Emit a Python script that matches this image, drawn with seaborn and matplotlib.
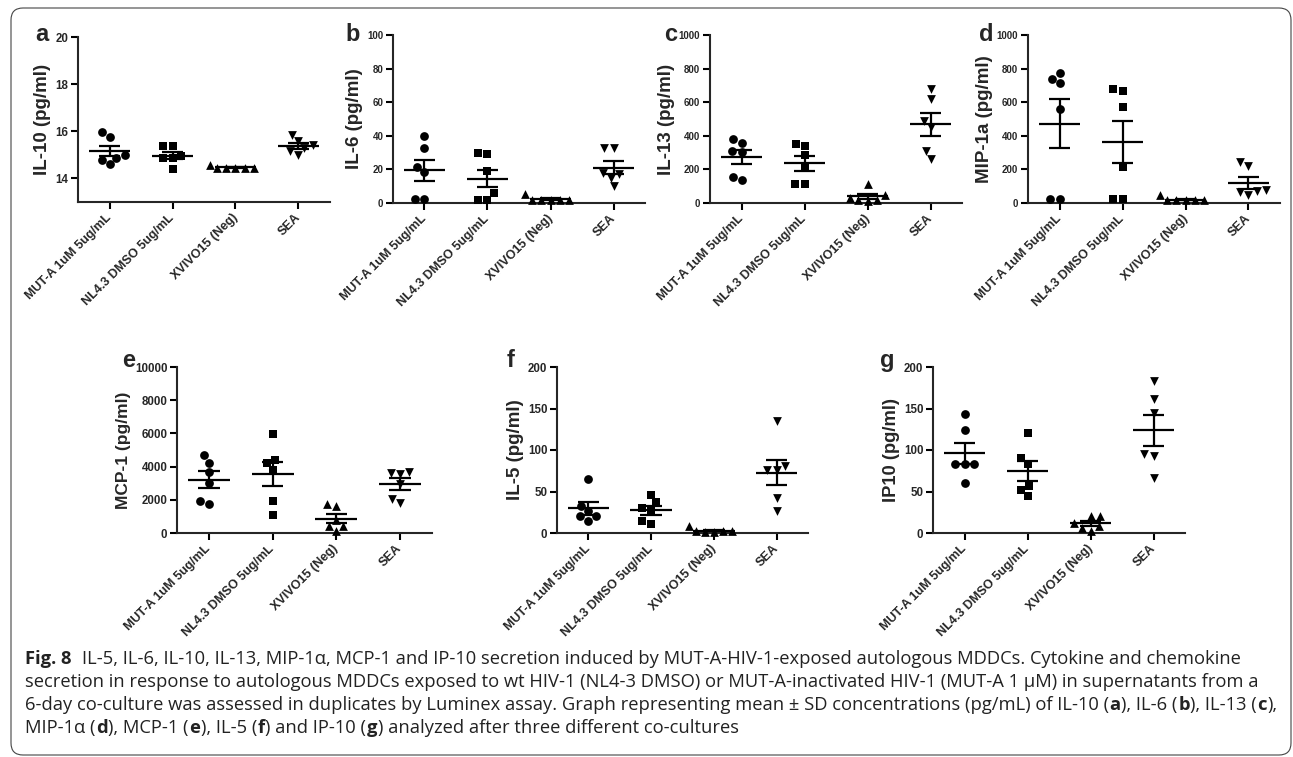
import numpy as np
import pandas as pd
import matplotlib.pyplot as plt
import seaborn as sns
from matplotlib.patches import FancyBboxPatch
from matplotlib.transforms import IdentityTransform

# groups on the x axis and their GraphPad-style markers
groups = ["MUT-A 1uM 5ug/mL", "NL4.3 DMSO 5ug/mL", "XVIVO15 (Neg)", "SEA"]
markers = ["o", "s", "^", "v"]

# values per donor (pg/ml), one list per group
il10 = [[15.95, 15.75, 14.85, 14.8, 14.6, 15.0],
        [15.38, 15.38, 14.86, 14.86, 14.95, 14.4],
        [14.45, 14.45, 14.45, 14.45, 14.45, 14.55],
        [15.6, 15.85, 15.4, 15.0, 15.15, 15.3]]
il6 = [[39.6, 32.7, 21.2, 18.4, 2.6, 2.6],
       [29.1, 29.7, 18.8, 5.9, 2.0, 2.0],
       [2.0, 2.0, 2.0, 2.0, 2.0, 5.3],
       [33.0, 33.0, 17.0, 18.0, 15.0, 10.0]]
il13 = [[380, 356, 307, 301, 139, 152],
        [352, 341, 285, 208, 113, 113],
        [113, 45, 30, 20, 15, 10],
        [677, 618, 491, 455, 307, 261]]
mip1a = [[772, 713, 739, 558, 24, 24],
         [677, 667, 574, 212, 24, 24],
         [15, 15, 15, 15, 15, 45],
         [245, 220, 75, 65, 70, 45]]
mcp1 = [[4700, 4240, 3000, 1740, 1900, 3700],
        [5940, 4400, 4200, 3800, 1900, 1100],
        [1740, 1640, 440, 800, 440, 100],
        [3640, 3700, 3540, 2960, 1800, 2040]]
il5 = [[65, 32, 26, 20, 20, 15],
       [46, 37, 30, 28, 11, 14],
       [1.5, 1.5, 2, 2, 2.5, 8],
       [135, 81, 76, 76, 42, 26]]
ip10 = [[143, 124, 83, 83, 83, 60],
        [121, 90, 83, 57, 52, 45],
        [21, 20, 8, 12, 6, 3],
        [183, 162, 144, 95, 93, 66]]

letters = ["a", "b", "c", "d", "e", "f", "g"]
ylabels = ["IL-10 (pg/ml)", "IL-6 (pg/ml)", "IL-13 (pg/ml)", "MIP-1a (pg/ml)",
           "MCP-1 (pg/ml)", "IL-5 (pg/ml)", "IP10 (pg/ml)"]
datasets = [il10, il6, il13, mip1a, mcp1, il5, ip10]
ylims = [(13, 20), (0, 100), (0, 1000), (0, 1000), (0, 10000), (0, 200), (0, 200)]
yticks = [[14, 16, 18, 20], [0, 20, 40, 60, 80, 100], [0, 200, 400, 600, 800, 1000],
          [0, 200, 400, 600, 800, 1000], [0, 2000, 4000, 6000, 8000, 10000],
          [0, 50, 100, 150, 200], [0, 50, 100, 150, 200]]

W, H = 1293, 757
# axes boxes in pixels: left, top, right, bottom
boxes = [(78, 37, 330, 202), (393, 35, 645, 203), (710, 35, 962, 203), (1028, 35, 1280, 203),
         (177, 367, 432, 533), (557, 367, 808, 533), (933, 367, 1185, 533)]
letter_pos = [(35, 41), (345, 41), (664, 41), (979, 41), (122, 367), (507, 367), (880, 367)]
ytick_size = [8.3, 7, 7, 7, 8.3, 8.3, 8.3]
ylabel_size = [13.5, 13.5, 13.5, 13.5, 12.5, 13.5, 13.2]

sns.set_style("ticks")
plt.rcParams["font.family"] = ["Liberation Sans", "DejaVu Sans"]
plt.rcParams["axes.linewidth"] = 1.5

fig = plt.figure(figsize=(W / 100, H / 100), dpi=100)

for n, vals in enumerate(datasets):
    l, t, r, b = boxes[n]
    ax = fig.add_axes([l / W, 1 - b / H, (r - l) / W, (b - t) / H])
    df = pd.DataFrame({"group": np.repeat(groups, [len(v) for v in vals]),
                       "value": np.concatenate(vals)})
    for g, m in zip(groups, markers):
        sns.swarmplot(data=df[df["group"] == g], x="group", y="value", order=groups,
                      marker=m, color="black", size=6.3, ax=ax, clip_on=False)
    stats = df.groupby("group", sort=False)["value"].agg(["mean", "sem"])
    for i, g in enumerate(groups):
        mu, se = stats.loc[g, "mean"], stats.loc[g, "sem"]
        ax.hlines(mu, i - 0.33, i + 0.33, color="black", lw=1.6, zorder=4)
        ax.hlines([mu - se, mu + se], i - 0.17, i + 0.17, color="black", lw=1.6, zorder=4)
        ax.vlines(i, mu - se, mu + se, color="black", lw=1.6, zorder=4)

    ax.set_xlim(-0.5, 3.5)
    ax.set_ylim(*ylims[n])
    ax.set_yticks(yticks[n])
    ax.set_xlabel("")
    ax.set_ylabel(ylabels[n], fontsize=ylabel_size[n], fontweight="bold", labelpad=3)
    ax.tick_params(axis="both", length=5, width=1.5, color="black")
    ax.tick_params(axis="y", labelsize=ytick_size[n], pad=2)
    ax.tick_params(axis="x", labelsize=9, pad=5)
    for tl in ax.get_yticklabels():
        tl.set_fontweight("bold")
    ax.set_xticks(range(len(groups)))
    ax.set_xticklabels(groups, rotation=45, ha="right", va="center",
                       rotation_mode="anchor", fontweight="bold")
    sns.despine(ax=ax)
    lx, ly = letter_pos[n]
    fig.text(lx / W, 1 - ly / H, letters[n], fontsize=17, fontweight="bold", va="baseline")

# rounded frame round the whole figure
frame = FancyBboxPatch((11, 2), 1280, 747, boxstyle="round,pad=0,rounding_size=12",
                       transform=IdentityTransform(), fill=False, ec="#444444", lw=0.8)
fig.patches.append(frame)

# caption, drawn run by run so the bold parts sit inline
cap_font = ["Open Sans", "DejaVu Sans"]
cap_size = 13.2
caption = [
    [("Fig. 8", True), (" ", False),
     ("IL-5, IL-6, IL-10, IL-13, MIP-1α, MCP-1 and IP-10 secretion induced by MUT-A-HIV-1-exposed autologous MDDCs. Cytokine and chemokine", False)],
    [("secretion in response to autologous MDDCs exposed to wt HIV-1 (NL4-3 DMSO) or MUT-A-inactivated HIV-1 (MUT-A 1 µM) in supernatants from a", False)],
    [("6-day co-culture was assessed in duplicates by Luminex assay. Graph representing mean ± SD concentrations (pg/mL) of IL-10 (", False),
     ("a", True), ("), IL-6 (", False), ("b", True), ("), IL-13 (", False), ("c", True), ("),", False)],
    [("MIP-1α (", False), ("d", True), ("), MCP-1 (", False), ("e", True), ("), IL-5 (", False),
     ("f", True), (") and IP-10 (", False), ("g", True), (") analyzed after three different co-cultures", False)],
]
renderer = fig.canvas.get_renderer()
for k, runs in enumerate(caption):
    x = 25
    yb = 664 + 23 * k
    for txt, bold in runs:
        if txt == " ":
            x += 10
            continue
        t = fig.text(x / W, 1 - yb / H, txt, fontsize=cap_size, family=cap_font,
                     fontweight="bold" if bold else "normal", color="#222222", va="baseline")
        x += t.get_window_extent(renderer).width + 0.5

fig.savefig("out.png", dpi=100)
